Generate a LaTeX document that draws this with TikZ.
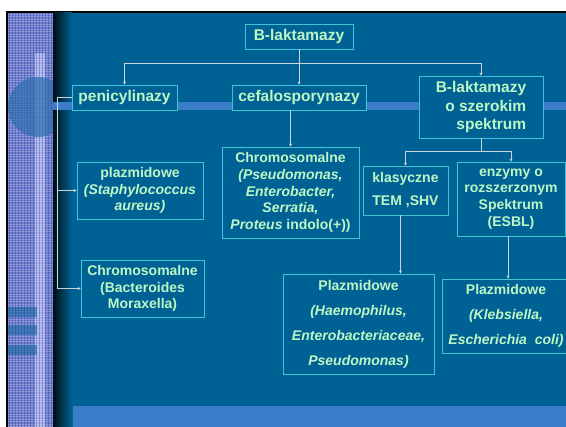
\documentclass[tikz,border=0pt]{standalone}
\usepackage{fontspec}
\setmainfont{Liberation Sans}
\usetikzlibrary{arrows.meta}
\definecolor{slidebg}{RGB}{0,98,148}
\definecolor{bandblue}{RGB}{58,124,200}
\definecolor{boxline}{RGB}{64,196,214}
\definecolor{textgreen}{RGB}{188,246,196}
\definecolor{stripeblue}{RGB}{112,126,210}
\definecolor{stripelight}{RGB}{170,178,240}
\definecolor{linegray}{RGB}{205,212,222}
\begin{document}
\begin{tikzpicture}[x=1pt, y=-1pt,
        enzbox/.style={draw=boxline, line width=0.8pt, fill=slidebg, text=textgreen, align=center,
            inner sep=0pt, font=\bfseries\fontsize{14}{16.7}\selectfont},
        bigbox/.style={enzbox, font=\bfseries\fontsize{15.5}{18.3}\selectfont},
        link/.style={draw=linegray, line width=0.6pt},
        arr/.style={link, -{Stealth[length=3pt, width=3pt]}}]
    \useasboundingbox (0,0) rectangle (566,427);
    \fill[white] (0,0) rectangle (566,427);
    \fill[black] (6,11) rectangle (566,427);
    \fill[stripeblue] (8,13) rectangle (53,427);
    \fill[stripelight] (35,53) rectangle (45,427);
    \foreach \y in {14,16.5,...,427}
        \draw[white, opacity=0.25, line width=0.5pt] (8,\y) -- (53,\y);
    \foreach \x in {9,12,...,53}
        \draw[black!60!blue, opacity=0.25, line width=0.5pt] (\x,13) -- (\x,427);
    \foreach \y in {307,325,345}
        \fill[slidebg!80!stripeblue, opacity=0.6] (8,\y) rectangle (37,\y+10);
    \fill[slidebg!60!stripeblue, opacity=0.7] (38,107) circle (30);
    \fill[slidebg] (53,13) rectangle (566,427);
    \shade[left color=black!85!slidebg, right color=slidebg] (53,13) rectangle (72,427);
    \fill[bandblue] (53,102) rectangle (566,110);
    \fill[bandblue] (73,406) rectangle (566,427);

    \node[bigbox, minimum width=108, minimum height=25] (blakt) at (299,36.5) {B-laktamazy};
    \node[bigbox, minimum width=105, minimum height=25] (penic) at (124.5,97.5) {penicylinazy};
    \node[bigbox, minimum width=134, minimum height=25] (cefalo) at (299,97.5) {cefalosporynazy};
    \node[bigbox, align=right, minimum width=124, minimum height=62] (szer) at (481,107)
        {B-laktamazy\\o szerokim\\spektrum};

    \node[enzbox, minimum width=126, minimum height=57] (plazst) at (140,190.5)
        {plazmidowe\\\textit{(Staphylococcus}\\\textit{aureus)}};
    \node[enzbox, minimum width=137, minimum height=91] (chromps) at (290.5,192.5)
        {Chromosomalne\\\textit{(Pseudomonas,}\\\textit{Enterobacter,}\\\textit{Serratia,}\\\textit{Proteus} indolo(+))};
    \node[enzbox, font=\bfseries\fontsize{14}{23}\selectfont, minimum width=85, minimum height=49] (klas)
        at (405.5,190.5) {klasyczne\\TEM ,SHV};
    \node[enzbox, minimum width=108, minimum height=74] (esbl) at (511,199)
        {enzymy o\\rozszerzonym\\Spektrum\\(ESBL)};
    \node[enzbox, minimum width=123, minimum height=57] (chrombact) at (142.5,288.5)
        {Chromosomalne\\(Bacteroides\\Moraxella)};
    \node[enzbox, font=\bfseries\fontsize{14}{25}\selectfont, minimum width=151, minimum height=100] (plazhaem)
        at (358.5,324) {Plazmidowe\\\textit{(Haemophilus,}\\\textit{Enterobacteriaceae,}\\\textit{Pseudomonas)}};
    \node[enzbox, font=\bfseries\fontsize{14}{24.7}\selectfont, minimum width=128, minimum height=74] (plazkleb)
        at (506,316) {Plazmidowe\\\textit{(Klebsiella,}\\\textit{Escherichia\ \ coli)}};

    \coordinate (bus) at (299,63);
    \draw[link] (blakt) -- (bus);
    \draw[arr] (bus) -| (penic);
    \draw[arr] (bus) -- (cefalo);
    \draw[arr] (bus) -| (szer);

    \draw[link] (penic.west) -- ++(-14,0) coordinate (pleft);
    \draw[arr] (pleft) |- (plazst);
    \draw[arr] (pleft) |- (chrombact);

    \draw[arr] (chromps.north |- cefalo.south) -- (chromps.north);

    \draw[link] (szer.south) -- ++(0,13) coordinate (sfork);
    \draw[arr] (sfork) -| (klas);
    \draw[arr] (sfork) -| (esbl);

    \draw[arr] ([xshift=-5pt]klas.south) -- ([xshift=-5pt]klas.south |- plazhaem.north);
    \draw[arr] ([xshift=-3pt]esbl.south) -- ([xshift=-3pt]esbl.south |- plazkleb.north);
\end{tikzpicture}
\end{document}
